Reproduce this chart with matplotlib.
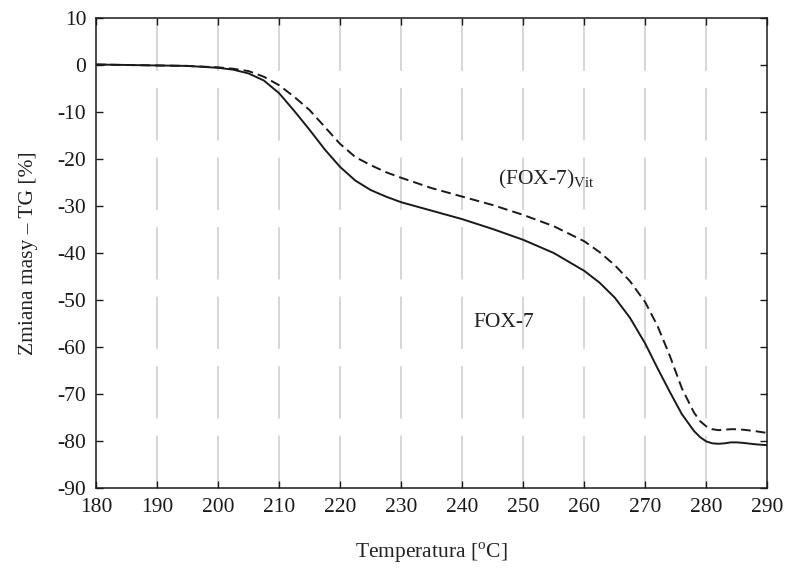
import numpy as np
import matplotlib.pyplot as plt

plt.rcParams['font.family'] = ['Liberation Serif', 'DejaVu Serif']
plt.rcParams['mathtext.fontset'] = 'custom'
plt.rcParams['mathtext.rm'] = 'Liberation Serif'
plt.rcParams['axes.unicode_minus'] = False

# temperature [C]
T = [180, 185, 190, 195, 200, 202.5, 205, 207.5, 210, 212.5, 215, 217.5, 220,
     222.5, 225, 227.5, 230, 235, 240, 245, 250, 255, 260, 262.5, 265, 267.5,
     270, 272, 274, 276, 278, 279, 280, 281, 282, 283, 284, 285, 286, 288, 290]

# FOX-7 (solid)
tg_fox7 = [0.1, 0.0, -0.1, -0.2, -0.6, -1.0, -1.8, -3.3, -6.0, -9.8, -13.8, -18.0, -21.7,
           -24.6, -26.6, -28.0, -29.2, -31.0, -32.8, -34.9, -37.2, -40.0, -43.8, -46.3, -49.5, -53.8,
           -59.3, -64.5, -69.5, -74.3, -77.9, -79.2, -80.1, -80.5, -80.6, -80.5, -80.3, -80.3, -80.4, -80.7, -80.9]

# (FOX-7)Vit (dashed)
tg_vit = [0.1, 0.0, -0.1, -0.2, -0.5, -0.8, -1.3, -2.5, -4.3, -6.8, -9.6, -13.2, -16.8,
          -19.6, -21.3, -22.8, -24.0, -26.2, -28.0, -29.8, -31.9, -34.3, -37.5, -39.8, -42.6, -46.0,
          -50.5, -55.5, -61.8, -68.8, -74.0, -75.8, -76.9, -77.5, -77.7, -77.6, -77.5, -77.5, -77.6, -77.9, -78.3]

fig = plt.figure(figsize=(7.87, 5.71), dpi=100)
ax = fig.add_axes([0.122, 0.1454, 0.853, 0.8231])

for xv in range(190, 290, 10):
    ax.axvline(xv, color='#d3d3d3', lw=1.3, ls=(0, (29, 9.5)), zorder=0)

ax.plot(T, tg_fox7, color='#1a1a1a', lw=1.4)
ax.plot(T, tg_vit, color='#1a1a1a', lw=1.4, ls=(0, (5, 2.6)))

ax.text(245.8, -24.3, r'(FOX-7)$_{\mathrm{Vit}}$', fontsize=15.5, va='center', color='#222222')
ax.text(241.8, -54.8, 'FOX-7', fontsize=15.5, va='center', color='#222222')

ax.set_xlim(180, 290)
ax.set_ylim(-90, 10)
ax.set_xticks(np.arange(180, 291, 10))
ax.set_yticks(np.arange(-90, 11, 10))
ax.tick_params(direction='in', length=5, width=1, top=True, right=True,
               labelsize=15.5, colors='#1a1a1a', pad=7)
for s in ax.spines.values():
    s.set_linewidth(1.1)
    s.set_color('#1a1a1a')

ax.set_xlabel(r'Temperatura [$^{\mathrm{o}}$C]', fontsize=15.5, labelpad=17, color='#222222')
ax.set_ylabel('Zmiana masy – TG [%]', fontsize=15.5, labelpad=14, color='#222222')

fig.savefig('out.png', dpi=100)
